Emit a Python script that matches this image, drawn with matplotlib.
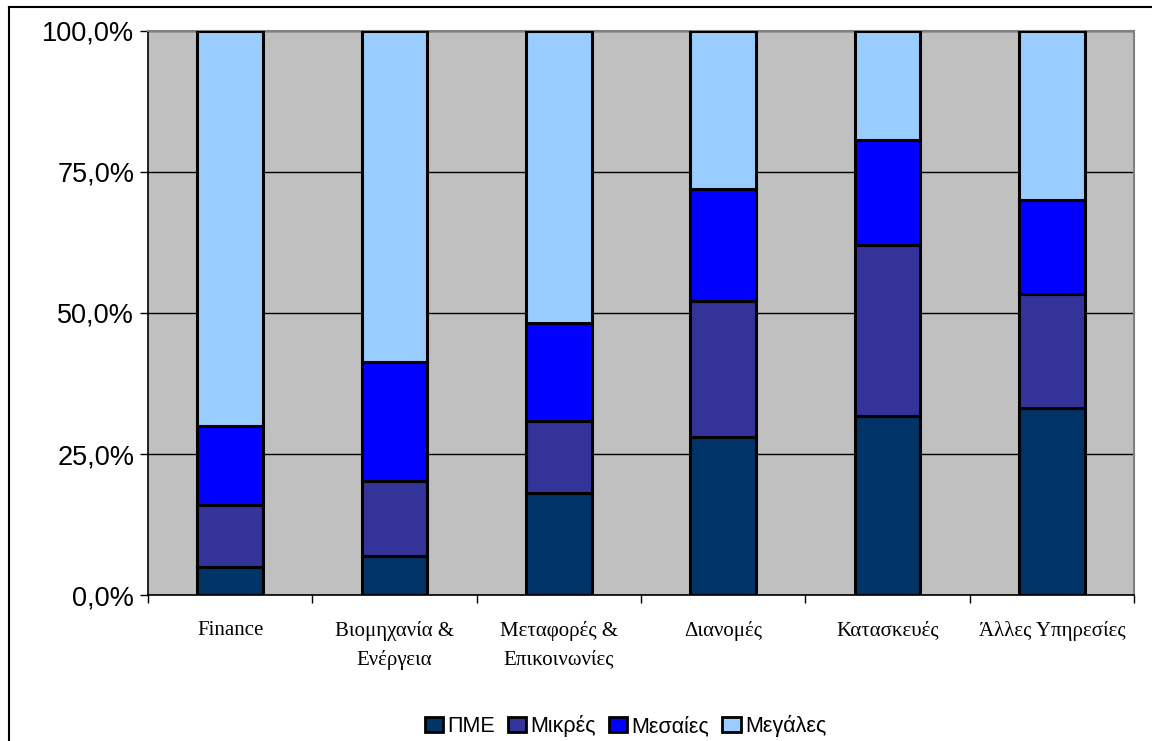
import numpy as np
import matplotlib.pyplot as plt
from matplotlib.ticker import FuncFormatter
from matplotlib.lines import Line2D

categories = ['Finance', 'Βιομηχανία &\nΕνέργεια', 'Μεταφορές &\nΕπικοινωνίες',
              'Διανομές', 'Κατασκευές', 'Άλλες Υπηρεσίες']
series_names = ['ΠΜΕ', 'Μικρές', 'Μεσαίες', 'Μεγάλες']
pme = [5.0, 7.0, 18.1, 28.0, 31.8, 33.1]
mikres = [11.0, 13.3, 12.8, 24.1, 30.3, 20.2]
mesaies = [14.0, 21.1, 17.4, 19.9, 18.6, 16.7]
megales = [70.0, 58.6, 51.7, 28.0, 19.3, 30.0]
colors = ['#003366', '#333399', '#0000FF', '#99CCFF']

fig = plt.figure(figsize=(11.52, 7.41), dpi=100)
ax = fig.add_axes([0.1285, 0.197, 0.8559, 0.7612])
ax.set_facecolor('#C0C0C0')

x = np.arange(len(categories))
bottom = np.zeros(len(categories))
for name, vals, c in zip(series_names, [pme, mikres, mesaies, megales], colors):
    ax.bar(x, vals, 0.4, bottom=bottom, color=c, edgecolor='black',
           linewidth=2.2, label=name, zorder=3)
    bottom += np.array(vals)

ax.set_xlim(-0.5, len(categories) - 0.5)
ax.set_ylim(0, 100)
ax.set_yticks([0, 25, 50, 75, 100])
ax.yaxis.set_major_formatter(FuncFormatter(lambda v, p: f'{v:.1f}%'.replace('.', ',')))
ax.grid(axis='y', color='black', linewidth=1, zorder=1)
ax.set_axisbelow(True)

ax.set_xticks(x)
ax.set_xticklabels(categories, fontfamily='Liberation Serif', fontsize=15,
                   linespacing=1.6)
ax.tick_params(axis='x', length=0, pad=19)
ax.set_xticks(np.arange(len(categories) + 1) - 0.5, minor=True)
ax.tick_params(axis='x', which='minor', length=6, width=1, color='black')
ax.tick_params(axis='y', length=6, width=1, labelsize=19.5, pad=4)
for lab in ax.get_yticklabels():
    lab.set_fontfamily('Liberation Sans')

for s in ['top', 'right']:
    ax.spines[s].set_color('#808080')
    ax.spines[s].set_linewidth(1.5)
for s in ['left', 'bottom']:
    ax.spines[s].set_color('black')
    ax.spines[s].set_linewidth(1.2)

leg = ax.legend(loc='center', bbox_to_anchor=(0.543, 0.02), bbox_transform=fig.transFigure,
                ncol=4, frameon=False, prop={'family': 'Liberation Sans', 'size': 15.5},
                handlelength=0.85, handleheight=0.7, handletextpad=0.2, columnspacing=0.6)
for h in leg.legend_handles:
    h.set_linewidth(2)

# outer chart border
fig.add_artist(Line2D([0.0078, 0.0078], [0, 0.9906], color='black', lw=1.5, transform=fig.transFigure))
fig.add_artist(Line2D([0.0078, 1.0], [0.9906, 0.9906], color='black', lw=1.5, transform=fig.transFigure))

fig.savefig('out.png', dpi=100)
